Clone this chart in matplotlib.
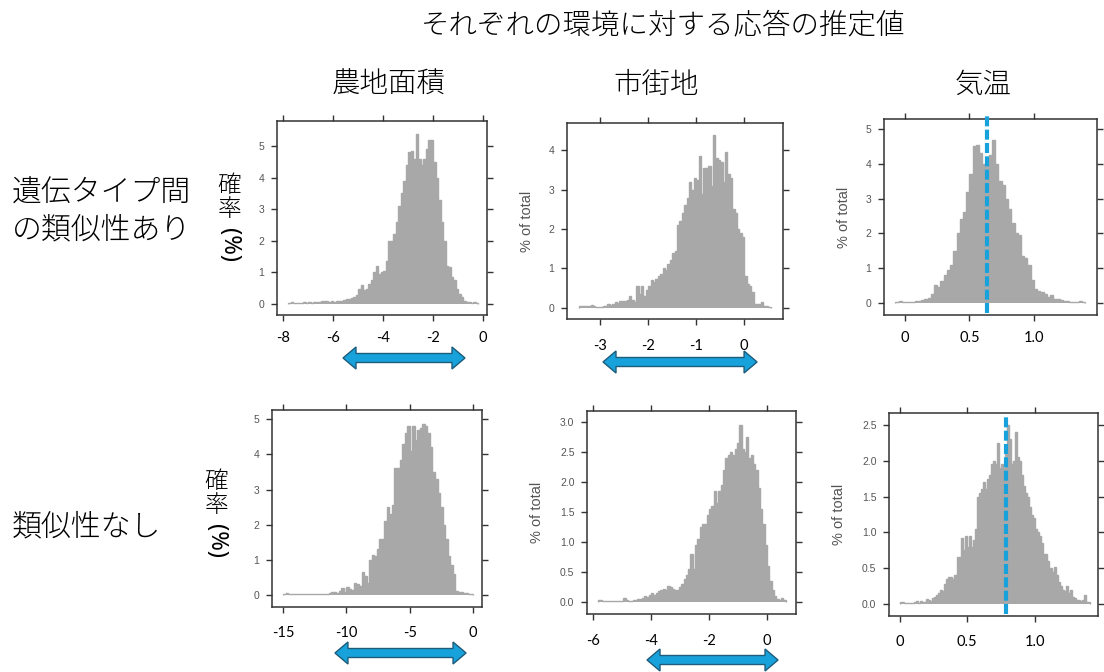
import numpy as np
import matplotlib
matplotlib.use('Agg')
import matplotlib.pyplot as plt
from matplotlib.patches import Polygon
from matplotlib.transforms import IdentityTransform

W, H = 1104, 672
plt.rcParams['font.family'] = ['Noto Sans CJK JP', 'DejaVu Sans']

# ---------------- text ----------------
title = 'それぞれの環境に対する応答の推定値'
col_titles = ['農地面積', '市街地', '気温']
row1_lines = ['遺伝タイプ間', 'の類似性あり']
row2_lines = ['類似性なし']
prob_chars = ['確', '率']
prob_unit = '(%)'
y_label = '% of total'

# ---------------- data (histogram % of total) ----------------
h1_range = (-7.8, -0.2)
h1_vals = [0.03, 0.04, 0.02, 0.03, 0.02, 0.03, 0.05, 0.03, 0.04,
           0.03, 0.05, 0.04, 0.06, 0.08, 0.10, 0.07, 0.06, 0.08, 0.05,
           0.08, 0.10, 0.09, 0.12, 0.15, 0.14, 0.18, 0.22, 0.28, 0.45,
           0.58, 0.42, 0.48, 0.62, 0.75, 1.0, 1.2, 0.95, 1.0, 1.05,
           1.35, 2.0, 2.0, 2.2, 2.6, 3.1, 3.5, 3.9, 4.4, 4.8,
           4.85, 4.6, 5.4, 4.6, 4.4, 4.6, 4.9, 5.2, 5.2, 4.5,
           4.0, 3.3, 2.6, 2.0, 1.2, 1.15, 0.85, 0.75, 0.45, 0.3,
           0.2, 0.1, 0.06, 0.04, 0.03, 0.05, 0.03]

h2_range = (-3.45, 0.55)
h2_vals = [0.03, 0.04, 0.04, 0.03, 0.05, 0.06, 0.04, 0.02, 0.02, 0.01,
           0.03, 0.05, 0.08, 0.07, 0.10, 0.14, 0.12, 0.16, 0.17, 0.16,
           0.2, 0.3, 0.2, 0.15, 0.55, 0.35, 0.55, 0.3, 0.45, 0.55,
           0.7, 0.65, 0.72, 0.8, 0.85, 1.0, 0.95, 1.1, 1.2,
           1.4, 1.45, 2.1, 2.2, 2.4, 2.6, 2.8, 3.2, 3.0, 3.3,
           3.25, 3.85, 2.9, 3.55, 3.55, 3.6, 3.1, 4.4, 3.8, 3.75,
           3.7, 3.2, 3.95, 3.4, 3.3, 2.5, 2.4, 2.0, 1.9, 1.8,
           0.8, 0.6, 0.55, 0.4, 0.1, 0.08, 0.1, 0.15, 0.05, 0.03, 0.02]

h3_range = (-0.075, 1.4)
h3_vals = [0.02, 0.06, 0.03, 0.02, 0.02, 0.02, 0.05, 0.05, 0.08, 0.12,
           0.15, 0.25, 0.52, 0.45, 0.62, 0.8, 0.95, 1.1, 1.5, 2.0,
           2.4, 2.6, 3.2, 3.7, 4.5, 4.55, 4.3, 4.0, 4.1, 4.25,
           4.7, 4.0, 3.5, 3.4, 3.0, 2.7, 2.3, 2.0, 1.95, 1.35,
           1.3, 1.1, 0.65, 0.4, 0.35, 0.32, 0.25, 0.18, 0.22, 0.12,
           0.1, 0.08, 0.05, 0.04, 0.03, 0.02, 0.02, 0.05, 0.03]

h4_range = (-15.0, 0.0)
h4_vals = [0.04, 0.05, 0.03,
           0.02, 0.02, 0.02, 0.02, 0.02, 0.02, 0.02, 0.02, 0.02, 0.02,
           0.02, 0.03, 0.02, 0.03, 0.04,
           0.06, 0.08, 0.1, 0.07, 0.12, 0.2, 0.1, 0.22, 0.18, 0.15,
           0.35, 0.32, 0.25, 0.65, 0.55, 0.35, 1.0, 1.15, 1.1, 1.3,
           1.6, 1.6, 2.1, 2.5, 2.3, 2.55, 3.6, 3.6, 3.85, 4.3,
           4.6, 4.8, 4.1, 4.8, 4.4, 4.7, 4.75, 4.85, 4.8, 4.6,
           4.2, 3.5, 3.3, 2.9, 2.5, 2.0, 1.6, 1.1, 0.85, 0.6,
           0.12, 0.1, 0.08, 0.06, 0.05, 0.03, 0.02]

h5_range = (-5.84, 0.64)
h5_vals = [0.04, 0.03, 0.02, 0.02, 0.02, 0.02, 0.02, 0.02, 0.02, 0.02, 0.02,
           0.07, 0.03, 0.02, 0.02, 0.03, 0.03, 0.05, 0.05, 0.06, 0.1,
           0.08, 0.12, 0.15, 0.12, 0.15, 0.18, 0.2, 0.22, 0.2, 0.27,
           0.25, 0.22, 0.2, 0.2, 0.25, 0.3, 0.38, 0.45, 0.55, 0.8,
           0.55, 0.95, 1.05, 1.25, 1.3, 1.3, 1.45, 1.55, 1.6, 1.85,
           1.65, 1.85, 1.95, 2.2, 2.4, 2.45, 2.5, 2.45, 2.55, 2.65,
           2.95, 2.55, 2.5, 2.75, 2.4, 2.45, 2.3, 2.2, 1.9, 1.55,
           1.3, 0.95, 0.6, 0.35, 0.2, 0.1, 0.05, 0.03, 0.06, 0.03]

h6_range = (0.0, 1.41)
h6_vals = [0.03, 0.02, 0.01, 0.01, 0.01, 0.01, 0.01, 0.03, 0.04, 0.01,
           0.04, 0.02, 0.03, 0.07, 0.05, 0.04, 0.08, 0.1, 0.12, 0.15,
           0.2, 0.18, 0.28, 0.35, 0.38, 0.38, 0.35, 0.4, 0.65, 0.65,
           0.92, 0.75, 0.95, 0.8, 0.95, 0.8, 0.9, 1.05, 1.5, 1.55,
           1.6, 1.7, 1.6, 1.75, 1.8, 1.95, 2.0, 1.95, 2.25, 1.9,
           1.95, 1.9, 2.1, 2.5, 2.3, 1.95, 2.0, 2.4, 2.05, 2.0,
           1.8, 1.65, 1.55, 1.5, 1.35, 1.25, 1.2, 1.05, 1.0, 0.95,
           0.85, 0.7, 0.7, 0.6, 0.5, 0.45, 0.52, 0.4, 0.3, 0.25,
           0.2, 0.18, 0.25, 0.15, 0.2, 0.1, 0.08, 0.05, 0.05, 0.04,
           0.05, 0.12, 0.03, 0.02]

hist_ranges = [h1_range, h2_range, h3_range, h4_range, h5_range, h6_range]
hist_vals = [h1_vals, h2_vals, h3_vals, h4_vals, h5_vals, h6_vals]

x_ticks = [[-8, -6, -4, -2, 0], [-3, -2, -1, 0], [0, 0.5, 1.0],
           [-15, -10, -5, 0], [-6, -4, -2, 0], [0, 0.5, 1.0]]
x_ticklabels = [['-8', '-6', '-4', '-2', '0'], ['-3', '-2', '-1', '0'], ['0', '0.5', '1.0'],
                ['-15', '-10', '-5', '0'], ['-6', '-4', '-2', '0'], ['0', '0.5', '1.0']]
y_ticks = [[0, 1, 2, 3, 4, 5], [0, 1, 2, 3, 4], [0, 1, 2, 3, 4, 5],
           [0, 1, 2, 3, 4, 5], [0, 0.5, 1.0, 1.5, 2.0, 2.5, 3.0], [0, 0.5, 1.0, 1.5, 2.0, 2.5]]
y_ticklabels = [['0', '1', '2', '3', '4', '5'], ['0', '1', '2', '3', '4'], ['0', '1', '2', '3', '4', '5'],
                ['0', '1', '2', '3', '4', '5'], ['0.0', '0.5', '1.0', '1.5', '2.0', '2.5', '3.0'],
                ['0.0', '0.5', '1.0', '1.5', '2.0', '2.5']]

# interval arrows (x data ends) for panels 0,1,3,4 ; reference lines for 2,5
arrow_ends = {0: (-5.6, -0.72), 1: (-2.94, 0.27), 3: (-10.9, -0.55), 4: (-4.14, 0.38)}
ref_x = {2: 0.633, 5: 0.79}

# ---------------- layout (pixels) ----------------
boxes = [(277, 121, 487, 315), (567, 123, 783, 319), (884, 119, 1097, 315),
         (272, 410, 482, 607), (587, 411, 796, 614), (889, 413, 1098, 616)]
xlims = [(-8.24, 0.16), (-3.69, 0.81), (-0.163, 1.49),
         (-15.87, 0.71), (-6.21, 1.0), (-0.081, 1.47)]
ylims = [(-0.36, 5.8), (-0.29, 4.7), (-0.35, 5.29),
         (-0.34, 5.26), (-0.2, 3.19), (-0.17, 2.67)]
xpads = [7, 10, 7, 9.4, 10, 9.4]
ylab_off = {1: 33, 2: 33, 4: 43, 5: 43}
arrow_y = {0: 358, 1: 362, 3: 653, 4: 660}

BAR = '#a8a8a8'
BLUE = '#17a2dc'
EDGE = '#333333'
CJK_W = 'light'

fig = plt.figure(figsize=(W / 100, H / 100), dpi=100)


def fx(x):
    return x / W


def fy(y):
    return 1 - y / H


axes = []
for i, (l, t, r, b) in enumerate(boxes):
    ax = fig.add_axes([l / W, 1 - b / H, (r - l) / W, (b - t) / H])
    axes.append(ax)
    lo, hi = hist_ranges[i]
    vals = np.array(hist_vals[i])
    edges = np.linspace(lo, hi, len(vals) + 1)
    ax.stairs(vals, edges, fill=True, color=BAR, linewidth=0)
    ax.stairs(vals, edges, fill=False, color=BAR, linewidth=1.0, baseline=0)
    ax.set_xlim(*xlims[i])
    ax.set_ylim(*ylims[i])
    ax.set_xticks(x_ticks[i])
    ax.set_xticklabels(x_ticklabels[i])
    ax.set_yticks(y_ticks[i])
    ax.set_yticklabels(y_ticklabels[i])
    for s in ax.spines.values():
        s.set_color(EDGE)
        s.set_linewidth(1.1)
    ax.tick_params(direction='out', length=4.5, width=1.0, color=EDGE,
                   top=True, right=True, labeltop=False, labelright=False)
    ax.tick_params(axis='x', labelsize=10.5, labelcolor='black', pad=xpads[i])
    ax.tick_params(axis='y', labelsize=7.5, labelcolor='#555555', pad=4.5)
    for lab in ax.get_xticklabels():
        lab.set_fontfamily(['Lato', 'DejaVu Sans'])
    for lab in ax.get_yticklabels():
        lab.set_fontfamily(['Liberation Sans', 'DejaVu Sans'])
    if i in ylab_off:
        ax.set_ylabel(y_label, fontsize=10.5, color='#555555',
                      fontfamily=['Liberation Sans', 'DejaVu Sans'])
        ax.yaxis.set_label_coords(-ylab_off[i] / (r - l), 0.5)
    if i in ref_x:
        top_frac = (b - (t - 4)) / (b - t) if i == 2 else 0.985
        ax.axvline(ref_x[i], ymin=0.01, ymax=top_frac, color=BLUE, lw=3,
                   linestyle=(0, (2.4, 0.8)), clip_on=False, zorder=5)

# interval arrows drawn in pixel space from data x ends
for i, (x0, x1) in arrow_ends.items():
    ax = axes[i]
    xl = ax.transData.transform((x0, 0))[0]
    xr = ax.transData.transform((x1, 0))[0]
    yc = H - arrow_y[i]
    hl, hh, sh = 13, 11, 4.5
    pts = [(xl, yc), (xl + hl, yc + hh), (xl + hl, yc + sh), (xr - hl, yc + sh),
           (xr - hl, yc + hh), (xr, yc), (xr - hl, yc - hh), (xr - hl, yc - sh),
           (xl + hl, yc - sh), (xl + hl, yc - hh)]
    fig.add_artist(Polygon(pts, closed=True, facecolor=BLUE, edgecolor='#1d5c7a',
                           linewidth=1.0, transform=IdentityTransform(), zorder=6))

# titles
fig.text(fx(663), fy(25), title, ha='center', va='center', fontsize=20.5, fontweight=CJK_W)
for xc, ct in zip([389, 656, 983], col_titles):
    fig.text(fx(xc), fy(85), ct, ha='center', va='center', fontsize=20.5, fontweight=CJK_W)

fig.text(fx(12), fy(193), row1_lines[0], ha='left', va='center', fontsize=21.5, fontweight=CJK_W)
fig.text(fx(12), fy(230), row1_lines[1], ha='left', va='center', fontsize=21.5, fontweight=CJK_W)
fig.text(fx(12), fy(527), row2_lines[0], ha='left', va='center', fontsize=21.5, fontweight=CJK_W)

for xc, ys in [(229, (185, 209, 245)), (216, (481, 506, 541))]:
    fig.text(fx(xc), fy(ys[0]), prob_chars[0], ha='center', va='center', fontsize=17, fontweight=CJK_W)
    fig.text(fx(xc), fy(ys[1]), prob_chars[1], ha='center', va='center', fontsize=17, fontweight=CJK_W)
    fig.text(fx(xc), fy(ys[2]), prob_unit, ha='center', va='center', fontsize=17,
             rotation=270, rotation_mode='anchor', fontweight='normal',
             fontfamily=['Noto Sans', 'DejaVu Sans'])

fig.savefig('out.png', dpi=100)
